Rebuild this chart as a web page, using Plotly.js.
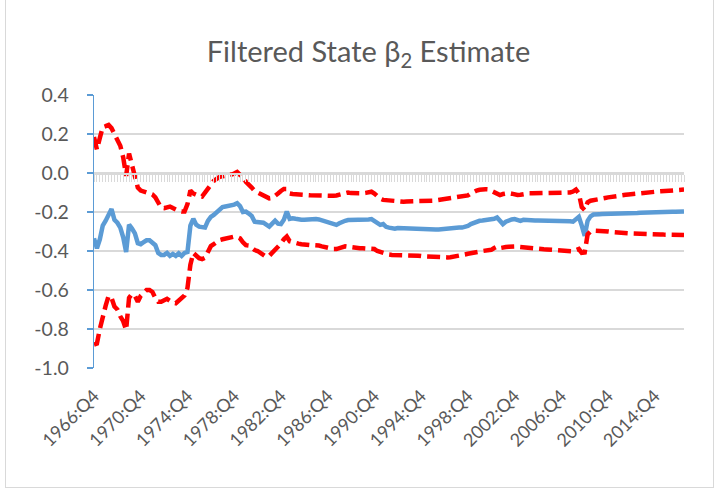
<!DOCTYPE html>
<html>
<head>
<meta charset="utf-8">
<script src="https://cdn.plot.ly/plotly-3.0.1.min.js"></script>
<style>
  html, body { margin: 0; padding: 0; background: #ffffff; overflow: hidden; }
  #chart { position: absolute; left: 0; top: 0; width: 719px; height: 492px; }
  #frame { position: absolute; left: 5px; top: -2px; width: 707px; height: 488px; border: 1px solid #d9d9d9; pointer-events: none; }
</style>
</head>
<body>
<div id="chart"></div>
<div id="frame"></div>
<script>
// ---- Data ----
var startYear = 1966, startQuarter = 4, nQuarters = 203; // 1966:Q4 ... 2017:Q2

var estimate = [
  -0.335,-0.386,-0.34,-0.27,-0.245,-0.215,-0.185,-0.24,-0.255,-0.28,
  -0.33,-0.405,-0.265,-0.285,-0.31,-0.36,-0.365,-0.355,-0.345,-0.345,
  -0.355,-0.37,-0.41,-0.42,-0.42,-0.41,-0.425,-0.415,-0.425,-0.412,
  -0.425,-0.41,-0.405,-0.27,-0.235,-0.265,-0.275,-0.275,-0.28,-0.245,
  -0.225,-0.215,-0.2,-0.185,-0.175,-0.172,-0.17,-0.165,-0.162,-0.155,
  -0.17,-0.2,-0.198,-0.208,-0.22,-0.25,-0.25,-0.25,-0.255,-0.265,
  -0.275,-0.26,-0.245,-0.26,-0.262,-0.24,-0.198,-0.235,-0.232,-0.235,
  -0.24,-0.24,-0.24,-0.238,-0.238,-0.236,-0.236,-0.238,-0.242,-0.246,
  -0.25,-0.255,-0.262,-0.266,-0.258,-0.25,-0.245,-0.241,-0.241,-0.242,
  -0.242,-0.241,-0.241,-0.24,-0.238,-0.236,-0.245,-0.26,-0.266,-0.262,
  -0.276,-0.28,-0.284,-0.286,-0.282,-0.283,-0.283,-0.284,-0.284,-0.285,
  -0.286,-0.287,-0.288,-0.29,-0.291,-0.292,-0.291,-0.29,-0.29,-0.288,
  -0.286,-0.284,-0.283,-0.282,-0.28,-0.28,-0.28,-0.278,-0.272,-0.262,
  -0.256,-0.248,-0.245,-0.244,-0.243,-0.242,-0.24,-0.235,-0.228,-0.248,
  -0.262,-0.25,-0.242,-0.238,-0.236,-0.242,-0.245,-0.24,-0.242,-0.244,
  -0.244,-0.244,-0.244,-0.244,-0.244,-0.243,-0.243,-0.243,-0.243,-0.243,
  -0.243,-0.245,-0.245,-0.248,-0.25,-0.235,-0.225,-0.27,-0.322,-0.245,
  -0.222,-0.213,-0.21,-0.211,-0.21,-0.21,-0.209,-0.209,-0.209,-0.208,
  -0.208,-0.207,-0.207,-0.207,-0.207,-0.206,-0.205,-0.204,-0.203,-0.203,
  -0.202,-0.202,-0.201,-0.201,-0.2,-0.2,-0.2,-0.2,-0.199,-0.199,
  -0.198,-0.198,-0.197
];

var upperBand = [
  0.185,0.12,0.18,0.235,0.24,0.246,0.23,0.2,0.165,0.14,
  0.08,-0.015,0.1,0.04,0.0,-0.075,-0.09,-0.095,-0.096,-0.1,
  -0.11,-0.125,-0.155,-0.178,-0.18,-0.176,-0.172,-0.18,-0.19,-0.195,
  -0.198,-0.198,-0.16,-0.09,-0.105,-0.113,-0.118,-0.121,-0.1,-0.078,
  -0.055,-0.04,-0.03,-0.02,-0.017,-0.015,-0.012,-0.008,-0.003,0.005,
  -0.01,-0.02,-0.045,-0.058,-0.075,-0.092,-0.1,-0.108,-0.113,-0.122,
  -0.13,-0.128,-0.113,-0.105,-0.092,-0.082,-0.082,-0.105,-0.108,-0.11,
  -0.112,-0.113,-0.113,-0.113,-0.114,-0.115,-0.115,-0.116,-0.117,-0.118,
  -0.118,-0.118,-0.117,-0.115,-0.112,-0.108,-0.104,-0.1,-0.103,-0.104,
  -0.104,-0.104,-0.104,-0.102,-0.098,-0.096,-0.105,-0.122,-0.132,-0.138,
  -0.14,-0.142,-0.144,-0.145,-0.146,-0.147,-0.147,-0.146,-0.146,-0.147,
  -0.147,-0.147,-0.147,-0.147,-0.146,-0.144,-0.142,-0.14,-0.138,-0.137,
  -0.135,-0.133,-0.13,-0.128,-0.126,-0.124,-0.122,-0.12,-0.115,-0.105,
  -0.096,-0.09,-0.086,-0.083,-0.083,-0.084,-0.09,-0.1,-0.108,-0.113,
  -0.108,-0.104,-0.103,-0.106,-0.11,-0.113,-0.112,-0.108,-0.106,-0.104,
  -0.104,-0.104,-0.104,-0.103,-0.103,-0.103,-0.102,-0.102,-0.102,-0.102,
  -0.102,-0.104,-0.102,-0.1,-0.095,-0.085,-0.105,-0.175,-0.19,-0.15,
  -0.142,-0.138,-0.135,-0.132,-0.13,-0.128,-0.125,-0.122,-0.12,-0.118,
  -0.116,-0.114,-0.112,-0.11,-0.108,-0.106,-0.104,-0.102,-0.1,-0.099,
  -0.098,-0.097,-0.096,-0.095,-0.094,-0.093,-0.092,-0.09,-0.089,-0.088,
  -0.087,-0.086,-0.085
];

var lowerBand = [
  -0.88,-0.875,-0.8,-0.73,-0.68,-0.63,-0.64,-0.685,-0.7,-0.735,
  -0.76,-0.805,-0.64,-0.62,-0.63,-0.66,-0.63,-0.615,-0.6,-0.6,
  -0.61,-0.64,-0.66,-0.66,-0.655,-0.645,-0.655,-0.665,-0.668,-0.655,
  -0.645,-0.628,-0.59,-0.47,-0.41,-0.425,-0.437,-0.442,-0.435,-0.405,
  -0.375,-0.365,-0.352,-0.344,-0.34,-0.336,-0.332,-0.328,-0.326,-0.328,
  -0.335,-0.355,-0.37,-0.372,-0.385,-0.395,-0.4,-0.41,-0.425,-0.43,
  -0.425,-0.41,-0.395,-0.385,-0.362,-0.34,-0.326,-0.35,-0.356,-0.36,
  -0.362,-0.365,-0.368,-0.37,-0.37,-0.37,-0.37,-0.372,-0.376,-0.38,
  -0.384,-0.387,-0.39,-0.39,-0.385,-0.378,-0.376,-0.378,-0.381,-0.383,
  -0.385,-0.386,-0.386,-0.386,-0.386,-0.386,-0.39,-0.4,-0.406,-0.41,
  -0.414,-0.418,-0.42,-0.42,-0.42,-0.42,-0.42,-0.421,-0.421,-0.422,
  -0.422,-0.424,-0.426,-0.427,-0.428,-0.43,-0.432,-0.434,-0.434,-0.434,
  -0.434,-0.433,-0.432,-0.43,-0.428,-0.425,-0.422,-0.418,-0.414,-0.41,
  -0.408,-0.405,-0.403,-0.4,-0.398,-0.396,-0.394,-0.385,-0.378,-0.385,
  -0.385,-0.38,-0.378,-0.376,-0.377,-0.378,-0.38,-0.382,-0.384,-0.386,
  -0.387,-0.388,-0.389,-0.39,-0.391,-0.392,-0.393,-0.394,-0.395,-0.396,
  -0.397,-0.398,-0.4,-0.4,-0.402,-0.396,-0.39,-0.41,-0.408,-0.315,
  -0.3,-0.296,-0.296,-0.297,-0.298,-0.299,-0.3,-0.302,-0.304,-0.305,
  -0.306,-0.307,-0.308,-0.309,-0.31,-0.31,-0.311,-0.312,-0.312,-0.313,
  -0.313,-0.314,-0.314,-0.315,-0.315,-0.316,-0.316,-0.317,-0.317,-0.317,
  -0.318,-0.318,-0.318
];

var yTickVals = [0.4, 0.2, 0.0, -0.2, -0.4, -0.6, -0.8, -1.0];
var yTickText = ["0.4", "0.2", "0.0", "-0.2", "-0.4", "-0.6", "-0.8", "-1.0"];
var xTickStep = 16; // one label every 4 years

// ---- Build category labels ----
var quarterLabels = [];
var idx = [];
for (var k = 0; k < nQuarters; k++) {
  var q0 = (startQuarter - 1) + k;
  var yr = startYear + Math.floor(q0 / 4);
  var qt = (q0 % 4) + 1;
  quarterLabels.push(yr + ":Q" + qt);
  idx.push(k);
}
var xTickVals = [], xTickText = [];
for (var t = 0; t < nQuarters; t += xTickStep) {
  xTickVals.push(t);
  xTickText.push(quarterLabels[t]);
}

var fontFam = "Lato, 'Open Sans', sans-serif";
var lastIdx = nQuarters - 1;

var traces = [
  {
    x: idx, y: estimate, text: quarterLabels, type: "scatter", mode: "lines",
    name: "Estimate", line: { color: "#5b9bd5", width: 4.5 }, hoverinfo: "text+y"
  },
  {
    x: idx, y: upperBand, text: quarterLabels, type: "scatter", mode: "lines",
    name: "Upper", line: { color: "#ff0000", width: 4.5, dash: "13px,6px" }, hoverinfo: "text+y"
  },
  {
    x: idx, y: lowerBand, text: quarterLabels, type: "scatter", mode: "lines",
    name: "Lower", line: { color: "#ff0000", width: 4.5, dash: "13px,6px" }, hoverinfo: "text+y"
  },
  {
    x: [0], y: [0], xaxis: "x2", yaxis: "y", type: "scatter", mode: "lines",
    line: { width: 0 }, showlegend: false, hoverinfo: "skip"
  }
];

var layout = {
  width: 719, height: 492,
  margin: { l: 94, r: 35, t: 95, b: 124, pad: 0 },
  paper_bgcolor: "#ffffff", plot_bgcolor: "#ffffff",
  showlegend: false,
  font: { family: fontFam, color: "#595959" },
  title: {
    text: "Filtered State β<sub>2</sub> Estimate",
    font: { family: fontFam, size: 29, color: "#595959" },
    xref: "container", yref: "container",
    x: 0.5125, xanchor: "center",
    y: 0.895, yanchor: "middle"
  },
  xaxis: {
    type: "linear", range: [0, lastIdx],
    showgrid: false, zeroline: false, showline: false,
    tickmode: "array", tickvals: xTickVals, ticktext: xTickText,
    tickangle: -45, ticks: "",
    ticklabelstandoff: 13,
    tickfont: { family: fontFam, size: 18, color: "#595959" }
  },
  xaxis2: {
    type: "linear", range: [0, lastIdx], overlaying: "x",
    anchor: "free", position: 1.0 / 1.4, side: "bottom",
    showgrid: false, zeroline: false,
    showline: true, linecolor: "#d9d9d9", linewidth: 1.5,
    ticks: "outside", ticklen: 7, tickwidth: 1, tickcolor: "#d9d9d9",
    tickmode: "linear", tick0: 0, dtick: 1,
    showticklabels: false
  },
  yaxis: {
    range: [-1.0, 0.4],
    tickmode: "array", tickvals: yTickVals, ticktext: yTickText,
    showgrid: true, gridcolor: "#d9d9d9", gridwidth: 1.3,
    zeroline: false,
    showline: true, linecolor: "#5b9bd5", linewidth: 1.3,
    ticks: "outside", ticklen: 6, tickcolor: "#5b9bd5", tickwidth: 1.3,
    ticklabelstandoff: 14,
    tickfont: { family: fontFam, size: 19.5, color: "#595959" }
  }
};

Plotly.newPlot("chart", traces, layout, { displayModeBar: false, staticPlot: true });
</script>
</body>
</html>
